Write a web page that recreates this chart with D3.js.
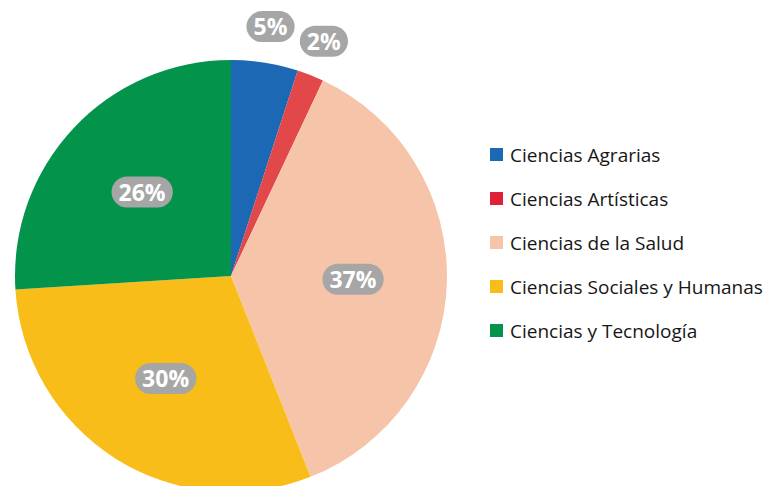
<!DOCTYPE html>
<html>
<head>
<meta charset="utf-8">
<title>Distribución por área</title>
<style>
  body { margin: 0; background: #fff; }
  svg { display: block; }
</style>
</head>
<body>
<script src="https://cdn.jsdelivr.net/npm/d3@7/dist/d3.min.js"></script>
<script>
// data
var areas = ["Ciencias Agrarias", "Ciencias Artísticas", "Ciencias de la Salud",
             "Ciencias Sociales y Humanas", "Ciencias y Tecnología"];
var shares = [5, 2, 37, 30, 26];
var colors = ["#1c68b5", "#e2474a", "#f6c5a9", "#f8bd19", "#03934a"];
var legendColors = ["#1c68b5", "#e01f38", "#f6c5a9", "#f8bd19", "#03934a"];

var width = 782, height = 486;
var cx = 231, cy = 276, radius = 216;

var svg = d3.select("body").append("svg")
    .attr("width", width)
    .attr("height", height);

var g = svg.append("g")
    .attr("transform", "translate(" + cx + "," + cy + ")");

var pie = d3.pie().sort(null).value(function(d) { return d; });
var arcs = pie(shares);

var arc = d3.arc().innerRadius(0).outerRadius(radius);
// centroid of an arc = mid radius, so these put labels at 122 and 252
var innerLabel = d3.arc().innerRadius(122).outerRadius(122);
var outerLabel = d3.arc().innerRadius(252).outerRadius(252);

g.selectAll("path.slice")
  .data(arcs)
  .enter().append("path")
    .attr("class", "slice")
    .attr("d", arc)
    .attr("fill", function(d, i) { return colors[i]; });

// percentage pills
var labels = g.selectAll("g.lbl")
  .data(arcs)
  .enter().append("g")
    .attr("class", "lbl")
    .attr("transform", function(d) {
      var c = d.value < 10 ? outerLabel.centroid(d) : innerLabel.centroid(d);
      return "translate(" + c[0] + "," + c[1] + ")";
    });

labels.append("text")
    .attr("text-anchor", "middle")
    .attr("dy", "0.36em")
    .style("font-family", "'Open Sans', sans-serif")
    .style("font-weight", "bold")
    .style("font-size", "23px")
    .attr("fill", "#fff")
    .text(function(d) { return d.value + "%"; });

labels.each(function() {
  var grp = d3.select(this);
  var bb = grp.select("text").node().getBBox();
  grp.insert("rect", "text")
    .attr("x", bb.x - 7)
    .attr("y", -16)
    .attr("width", bb.width + 14)
    .attr("height", 31)
    .attr("rx", 15.5)
    .attr("fill", "#a6a6a6");
});

// legend
var legend = svg.append("g")
    .attr("transform", "translate(490,155)");

var rows = legend.selectAll("g")
  .data(areas)
  .enter().append("g")
    .attr("transform", function(d, i) { return "translate(0," + (i * 44) + ")"; });

rows.append("rect")
    .attr("x", 0)
    .attr("y", -7)
    .attr("width", 13)
    .attr("height", 13)
    .attr("fill", function(d, i) { return legendColors[i]; });

rows.append("text")
    .attr("x", 20)
    .attr("dy", "0.35em")
    .style("font-family", "'Open Sans', sans-serif")
    .style("font-size", "19px")
    .attr("fill", "#161616")
    .text(function(d) { return d; });
</script>
</body>
</html>
